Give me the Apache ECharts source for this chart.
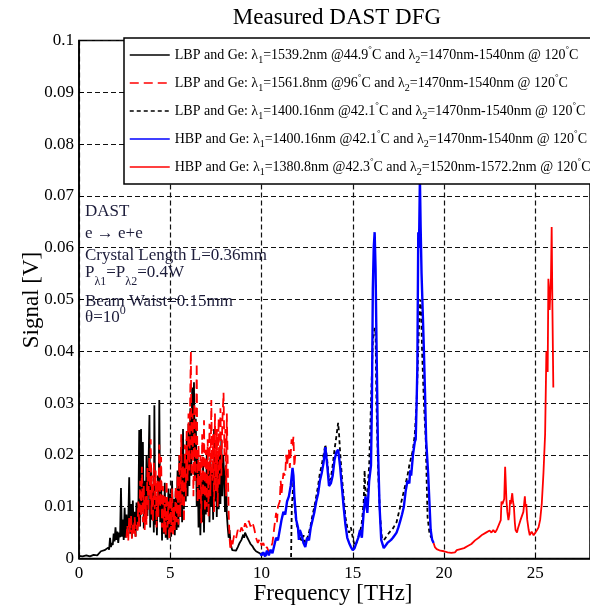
<!DOCTYPE html>
<html>
<head>
<meta charset="utf-8">
<script src="https://cdn.jsdelivr.net/npm/echarts@6/dist/echarts.min.js"></script>
<style>
  html, body { margin: 0; padding: 0; background: #fff; }
  #chart { width: 590px; height: 608px; }
</style>
</head>
<body>
<div id="chart"></div>
<script>
// Series names (legend entries)
const seriesNames = [
  'LBP and Ge: λ1=1539.2nm @44.9°C and λ2=1470nm-1540nm @ 120°C',
  'LBP and Ge: λ1=1561.8nm @96°C and λ2=1470nm-1540nm @ 120°C',
  'LBP and Ge: λ1=1400.16nm @42.1°C and λ2=1470nm-1540nm @ 120°C',
  'HBP and Ge: λ1=1400.16nm @42.1°C and λ2=1470nm-1540nm @ 120°C',
  'HBP and Ge: λ1=1380.8nm @42.3°C and λ2=1520nm-1572.2nm @ 120°C'
];

// [frequency THz, signal V]
const lbp1539 = [
  [0.0,0.0005],[0.2,0.0004],[0.4,0.0006],[0.6,0.0004],[0.8,0.0007],[1.0,0.0006],[1.1,0.0009],[1.2,0.0014],
  [1.3,0.0011],[1.4,0.0016],[1.5,0.0013],[1.6,0.0021],[1.65,0.0017],[1.7,0.0040],[1.75,0.0022],[1.8,0.0030],
  [1.85,0.0026],[1.9,0.0048],[1.95,0.0033],[2.0,0.0060],[2.05,0.0036],[2.1,0.0052],[2.15,0.0030],[2.2,0.0050],
  [2.25,0.0041],[2.3,0.0136],[2.35,0.0042],[2.4,0.0075],[2.45,0.0036],[2.5,0.0098],[2.55,0.0040],[2.6,0.0085],
  [2.65,0.0044],[2.7,0.0070],[2.75,0.0157],[2.8,0.0048],[2.85,0.0105],[2.9,0.0040],[2.95,0.0112],[3.0,0.0050],
  [3.05,0.0090],[3.1,0.0042],[3.15,0.0108],[3.2,0.0055],[3.25,0.0080],[3.3,0.0248],[3.35,0.0062],[3.4,0.0250],
  [3.45,0.0090],[3.5,0.0225],[3.55,0.0058],[3.6,0.0150],[3.65,0.0070],[3.7,0.0200],[3.75,0.0082],[3.8,0.0160],
  [3.86,0.0277],[3.9,0.0060],[3.95,0.0180],[4.0,0.0075],[4.05,0.0140],[4.1,0.0050],[4.13,0.0296],[4.18,0.0065],
  [4.22,0.0120],[4.27,0.0045],[4.32,0.0160],[4.36,0.0080],[4.4,0.0306],[4.45,0.0070],[4.5,0.0150],[4.55,0.0035],
  [4.6,0.0120],[4.65,0.0048],[4.7,0.0146],[4.75,0.0040],[4.8,0.0110],[4.85,0.0036],[4.9,0.0135],[4.95,0.0055],
  [5.0,0.0125],[5.05,0.0042],[5.1,0.0150],[5.15,0.0060],[5.2,0.0115],[5.25,0.0045],[5.3,0.0130],[5.35,0.0055],
  [5.4,0.0170],[5.45,0.0060],[5.5,0.0200],[5.55,0.0080],[5.6,0.0215],[5.65,0.0070],[5.7,0.0250],[5.75,0.0095],
  [5.8,0.0190],[5.85,0.0110],[5.9,0.0230],[5.95,0.0120],[6.0,0.0260],[6.05,0.0140],[6.1,0.0290],[6.15,0.0160],
  [6.2,0.0330],[6.25,0.0200],[6.3,0.0340],[6.35,0.0150],[6.4,0.0270],[6.45,0.0100],[6.5,0.0200],[6.55,0.0060],
  [6.6,0.0180],[6.65,0.0045],[6.7,0.0150],[6.75,0.0070],[6.8,0.0190],[6.85,0.0050],[6.9,0.0165],[6.95,0.0085],
  [7.0,0.0200],[7.05,0.0090],[7.1,0.0180],[7.15,0.0070],[7.2,0.0195],[7.25,0.0100],[7.3,0.0170],[7.35,0.0075],
  [7.4,0.0250],[7.45,0.0110],[7.5,0.0190],[7.55,0.0080],[7.6,0.0200],[7.65,0.0095],[7.7,0.0215],[7.75,0.0105],
  [7.8,0.0230],[7.85,0.0120],[7.9,0.0200],[7.95,0.0165],[8.0,0.0090],[8.05,0.0180],[8.1,0.0085],[8.15,0.0060],
  [8.2,0.0040],[8.25,0.0055],[8.3,0.0030],[8.35,0.0022],[8.4,0.0016],[8.5,0.0018],[8.6,0.0015],[8.7,0.0022],
  [8.8,0.0030],[8.9,0.0036],[9.0,0.0046],[9.05,0.0040],[9.1,0.0050],[9.2,0.0042],[9.3,0.0035],[9.4,0.0028],
  [9.5,0.0024],[9.6,0.0018],[9.7,0.0014],[9.8,0.0012],[9.9,0.0010],[10.0,0.0011],[10.1,0.0008],[10.2,0.0009],
  [10.3,0.0007]
];

const lbp1561 = [
  [2.6,0.0040],[2.65,0.0065],[2.7,0.0035],[2.75,0.0078],[2.8,0.0050],[2.85,0.0084],[2.9,0.0038],[2.95,0.0070],
  [3.0,0.0045],[3.05,0.0080],[3.1,0.0042],[3.15,0.0065],[3.2,0.0050],[3.25,0.0110],[3.3,0.0060],[3.35,0.0150],
  [3.4,0.0080],[3.45,0.0177],[3.5,0.0070],[3.55,0.0140],[3.6,0.0055],[3.65,0.0120],[3.7,0.0065],[3.75,0.0175],
  [3.8,0.0090],[3.85,0.0195],[3.9,0.0110],[3.93,0.0230],[3.97,0.0085],[4.0,0.0160],[4.05,0.0070],[4.1,0.0185],
  [4.15,0.0095],[4.2,0.0170],[4.25,0.0060],[4.3,0.0150],[4.35,0.0080],[4.4,0.0220],[4.45,0.0100],[4.5,0.0196],
  [4.55,0.0060],[4.6,0.0140],[4.65,0.0050],[4.7,0.0120],[4.75,0.0045],[4.8,0.0150],[4.85,0.0060],[4.9,0.0110],
  [4.95,0.0036],[5.0,0.0120],[5.05,0.0050],[5.1,0.0135],[5.15,0.0045],[5.2,0.0100],[5.25,0.0055],[5.3,0.0140],
  [5.35,0.0070],[5.4,0.0160],[5.45,0.0065],[5.5,0.0200],[5.55,0.0080],[5.6,0.0240],[5.65,0.0100],[5.7,0.0180],
  [5.75,0.0070],[5.8,0.0220],[5.85,0.0120],[5.9,0.0250],[5.95,0.0150],[6.0,0.0280],[6.05,0.0170],[6.1,0.0330],
  [6.13,0.0400],[6.17,0.0160],[6.22,0.0280],[6.27,0.0120],[6.32,0.0300],[6.37,0.0150],[6.42,0.0260],[6.45,0.0377],
  [6.5,0.0110],[6.55,0.0220],[6.6,0.0110],[6.65,0.0200],[6.7,0.0068],[6.75,0.0240],[6.8,0.0120],[6.85,0.0267],
  [6.9,0.0090],[6.95,0.0210],[7.0,0.0100],[7.05,0.0230],[7.1,0.0080],[7.15,0.0260],[7.2,0.0120],[7.25,0.0306],
  [7.3,0.0150],[7.35,0.0240],[7.4,0.0090],[7.45,0.0280],[7.5,0.0130],[7.55,0.0250],[7.6,0.0100],[7.65,0.0270],
  [7.7,0.0140],[7.75,0.0290],[7.8,0.0160],[7.85,0.0260],[7.92,0.0320],[7.97,0.0200],[8.02,0.0250],[8.06,0.0120],
  [8.1,0.0280],[8.15,0.0180],[8.2,0.0090],[8.25,0.0040],[8.3,0.0016],[8.35,0.0035],[8.4,0.0025],[8.5,0.0045],
  [8.6,0.0038],[8.7,0.0055],[8.8,0.0048],[8.9,0.0060],[9.0,0.0052],[9.1,0.0068],[9.2,0.0060],[9.3,0.0073],
  [9.4,0.0062],[9.5,0.0070],[9.6,0.0058],[9.7,0.0040],[9.8,0.0030],[9.9,0.0038],[10.0,0.0025],[10.1,0.0030],
  [10.2,0.0018],[10.3,0.0022],[10.4,0.0012],[10.5,0.0020],[10.6,0.0030],[10.7,0.0060],[10.8,0.0088],[10.85,0.0070],
  [10.9,0.0100],[11.0,0.0110],[11.05,0.0150],[11.1,0.0125],[11.2,0.0165],[11.3,0.0160],[11.35,0.0200],[11.4,0.0180],
  [11.5,0.0210],[11.55,0.0175],[11.65,0.0230],[11.7,0.0215],[11.75,0.0235],[11.8,0.0177],[11.85,0.0200]
];

const lbp1400 = [
  [11.62,0.0003],[11.66,0.0100],[11.7,0.0120],[11.75,0.0150],[11.8,0.0110],[11.85,0.0090],[11.9,0.0070],[12.0,0.0055],
  [12.1,0.0040],[12.2,0.0035],[12.3,0.0045],[12.4,0.0030],[12.5,0.0038],[12.6,0.0050],[12.7,0.0065],[12.8,0.0085],
  [12.9,0.0100],[13.0,0.0120],[13.1,0.0140],[13.2,0.0165],[13.3,0.0180],[13.4,0.0200],[13.5,0.0220],[13.55,0.0205],
  [13.6,0.0190],[13.7,0.0150],[13.8,0.0155],[13.9,0.0180],[14.0,0.0210],[14.1,0.0235],[14.2,0.0262],[14.25,0.0240],
  [14.3,0.0210],[14.4,0.0160],[14.5,0.0120],[14.6,0.0080],[14.7,0.0060],[14.8,0.0050],[14.9,0.0060],[15.0,0.0040],
  [15.1,0.0025],[15.2,0.0030],[15.3,0.0040],[15.4,0.0050],[15.5,0.0070],[15.6,0.0110],[15.65,0.0170],[15.7,0.0120],
  [15.8,0.0130],[15.9,0.0180],[16.0,0.0300],[16.1,0.0420],[16.2,0.0445],[16.25,0.0435],[16.3,0.0300],[16.4,0.0160],
  [16.5,0.0080],[16.6,0.0040],[16.7,0.0035],[16.8,0.0040],[16.9,0.0045],[17.0,0.0050],[17.2,0.0058],[17.4,0.0070],
  [17.5,0.0085],[17.6,0.0100],[17.7,0.0115],[17.8,0.0130],[17.9,0.0145],[18.0,0.0160],[18.1,0.0180],[18.2,0.0195],
  [18.3,0.0210],[18.4,0.0240],[18.5,0.0300],[18.6,0.0420],[18.7,0.0500],[18.75,0.0480],[18.8,0.0400],[18.9,0.0300],
  [19.0,0.0230],[19.05,0.0150],[19.1,0.0080],[19.2,0.0050],[19.3,0.0040]
];

const hbp1400 = [
  [9.95,0.0010],[10.0,0.0006],[10.1,0.0012],[10.2,0.0004],[10.3,0.0015],[10.4,0.0006],[10.5,0.0017],[10.6,0.0010],
  [10.7,0.0025],[10.8,0.0040],[10.9,0.0035],[11.0,0.0055],[11.1,0.0075],[11.2,0.0090],[11.3,0.0085],[11.4,0.0110],
  [11.5,0.0120],[11.6,0.0140],[11.7,0.0175],[11.75,0.0160],[11.8,0.0120],[11.9,0.0075],[12.0,0.0060],[12.05,0.0036],
  [12.1,0.0055],[12.2,0.0045],[12.3,0.0030],[12.4,0.0022],[12.5,0.0040],[12.6,0.0035],[12.7,0.0060],[12.8,0.0075],
  [12.9,0.0090],[13.0,0.0110],[13.1,0.0125],[13.2,0.0150],[13.3,0.0165],[13.4,0.0185],[13.5,0.0215],[13.6,0.0180],
  [13.7,0.0140],[13.8,0.0145],[13.9,0.0160],[14.0,0.0190],[14.1,0.0205],[14.2,0.0210],[14.3,0.0180],[14.4,0.0140],
  [14.5,0.0100],[14.6,0.0065],[14.7,0.0040],[14.8,0.0030],[14.9,0.0022],[15.0,0.0016],[15.1,0.0020],[15.2,0.0030],
  [15.3,0.0040],[15.4,0.0055],[15.5,0.0040],[15.6,0.0090],[15.7,0.0120],[15.8,0.0088],[15.9,0.0150],[16.0,0.0180],
  [16.05,0.0300],[16.1,0.0520],[16.15,0.0600],[16.2,0.0630],[16.25,0.0560],[16.3,0.0420],[16.38,0.0215],[16.47,0.0100],
  [16.56,0.0036],[16.7,0.0020],[16.8,0.0022],[16.9,0.0030],[17.0,0.0032],[17.1,0.0036],[17.2,0.0040],[17.3,0.0045],
  [17.4,0.0050],[17.5,0.0060],[17.6,0.0072],[17.7,0.0085],[17.8,0.0100],[17.9,0.0130],[18.0,0.0150],[18.1,0.0145],
  [18.15,0.0170],[18.2,0.0160],[18.3,0.0200],[18.4,0.0225],[18.45,0.0230],[18.5,0.0300],[18.54,0.0370],[18.59,0.0630],
  [18.63,0.0600],[18.68,0.0735],[18.72,0.0640],[18.77,0.0550],[18.84,0.0470],[18.9,0.0400],[18.96,0.0320],[19.02,0.0230],
  [19.13,0.0165],[19.2,0.0110],[19.27,0.0055],[19.35,0.0036],[19.43,0.0030]
];

const hbp1380 = [
  [19.43,0.0030],[19.5,0.0022],[19.6,0.0018],[19.7,0.0020],[19.8,0.0015],[19.9,0.0018],[20.0,0.0014],[20.1,0.0016],
  [20.2,0.0012],[20.3,0.0015],[20.4,0.0011],[20.5,0.0013],[20.6,0.0012],[20.7,0.0016],[20.8,0.0013],[20.9,0.0018],
  [21.0,0.0016],[21.1,0.0020],[21.2,0.0019],[21.3,0.0024],[21.4,0.0022],[21.5,0.0028],[21.6,0.0030],[21.7,0.0035],
  [21.8,0.0034],[21.9,0.0040],[22.0,0.0042],[22.1,0.0046],[22.2,0.0044],[22.3,0.0050],[22.4,0.0049],[22.5,0.0054],
  [22.6,0.0050],[22.7,0.0055],[22.8,0.0050],[22.9,0.0056],[23.0,0.0055],[23.11,0.0074],[23.15,0.0110],[23.2,0.0105],
  [23.3,0.0115],[23.35,0.0177],[23.38,0.0150],[23.42,0.0113],[23.47,0.0090],[23.53,0.0074],[23.58,0.0085],[23.62,0.0113],
  [23.66,0.0105],[23.74,0.0126],[23.78,0.0110],[23.83,0.0100],[23.88,0.0070],[23.92,0.0055],[24.0,0.0050],[24.05,0.0058],
  [24.1,0.0060],[24.19,0.0074],[24.28,0.0072],[24.35,0.0090],[24.43,0.0120],[24.47,0.0100],[24.51,0.0105],[24.56,0.0075],
  [24.64,0.0055],[24.7,0.0045],[24.8,0.0052],[24.91,0.0045],[25.0,0.0048],[25.1,0.0055],[25.18,0.0060],[25.27,0.0075],
  [25.36,0.0107],[25.45,0.0165],[25.54,0.0240],[25.58,0.0330],[25.61,0.0400],[25.64,0.0380],[25.68,0.0360],[25.72,0.0540],
  [25.76,0.0500],[25.79,0.0480],[25.83,0.0520],[25.86,0.0540],[25.9,0.0640],[25.94,0.0485],[25.99,0.0330]
];

// Axis tick settings
const xTicks = { min: 0, max: 28, step: 5 };
const yTicks = { min: 0, max: 0.1, step: 0.01 };

const serif = "'Liberation Serif', 'Times New Roman', Times, serif";
const inkText = '#1c1c3a';

const chart = echarts.init(document.getElementById('chart'), null, { renderer: 'canvas' });

function lineSeries(name, data, color, width, dash) {
  return {
    name: name,
    type: 'line',
    data: data,
    symbol: 'none',
    showSymbol: false,
    animation: false,
    clip: true,
    lineStyle: { color: color, width: width, type: dash || 'solid' },
    itemStyle: { color: color },
    emphasis: { disabled: true }
  };
}

const option = {
  animation: false,
  backgroundColor: '#fff',
  grid: {
    left: 79, top: 40.5, width: 519.7, height: 518,
    show: true, borderColor: '#000', borderWidth: 1.5, backgroundColor: '#fff'
  },
  xAxis: {
    type: 'value',
    min: xTicks.min, max: xTicks.max, interval: xTicks.step,
    axisLine: { show: true, onZero: false, lineStyle: { color: '#000', width: 1.5 } },
    axisTick: { show: true, inside: true, length: 5, lineStyle: { color: '#000' } },
    axisLabel: {
      show: true, margin: 7, color: '#000', fontFamily: serif, fontSize: 17,
      showMaxLabel: false,
      formatter: v => String(v)
    },
    splitLine: { show: true, lineStyle: { color: '#111', width: 1.2, type: [5, 3] } }
  },
  yAxis: {
    type: 'value',
    min: yTicks.min, max: yTicks.max, interval: yTicks.step,
    axisLine: { show: true, onZero: false, lineStyle: { color: '#000', width: 1.5 } },
    axisTick: { show: true, inside: true, length: 5, lineStyle: { color: '#000' } },
    axisLabel: {
      show: true, margin: 5, color: '#000', fontFamily: serif, fontSize: 17,
      formatter: v => String(+v.toFixed(2))
    },
    splitLine: { show: true, lineStyle: { color: '#111', width: 1.2, type: [5, 3] } }
  },
  legend: {
    orient: 'vertical',
    left: 124, top: 38,
    padding: [7, 10, 7, 5],
    itemWidth: 40, itemHeight: 14, itemGap: 8,
    backgroundColor: '#fff', borderColor: '#000', borderWidth: 1.5,
    selectedMode: false,
    data: seriesNames,
    itemStyle: { opacity: 0, borderWidth: 0 },
    lineStyle: { width: 1.5 },
    formatter: name => name.replace(/λ(\d)/g, '{l|λ}{s|$1}').replace(/°/g, '{o|°}'),
    textStyle: {
      fontFamily: serif, fontSize: 14, color: '#000', lineHeight: 20,
      rich: {
        l: { fontFamily: serif, fontSize: 14, lineHeight: 20, color: '#000' },
        s: { fontFamily: serif, fontSize: 10, lineHeight: 10, verticalAlign: 'bottom', color: '#000' },
        o: { fontFamily: serif, fontSize: 9, lineHeight: 9, verticalAlign: 'top', color: '#000' }
      }
    }
  },
  graphic: [
    { type: 'text', x: 337, y: 18, z: 10,
      style: { text: 'Measured DAST DFG', fill: '#000', font: '23px ' + serif, align: 'center', verticalAlign: 'middle' } },
    { type: 'text', x: 333, y: 594, z: 10,
      style: { text: 'Frequency [THz]', fill: '#000', font: '23px ' + serif, align: 'center', verticalAlign: 'middle' } },
    { type: 'text', x: 32, y: 300, rotation: Math.PI / 2, z: 10,
      style: { text: 'Signal [V]', fill: '#000', font: '23px ' + serif, align: 'center', verticalAlign: 'middle' } },
    { type: 'text', x: 85, y: 212, z: 10,
      style: { text: 'DAST', fill: inkText, font: '17px ' + serif, align: 'left', verticalAlign: 'middle' } },
    { type: 'text', x: 85, y: 234, z: 10,
      style: { text: 'e → e+e', fill: inkText, font: '17px ' + serif, align: 'left', verticalAlign: 'middle' } },
    { type: 'text', x: 85, y: 256, z: 10,
      style: { text: 'Crystal Length L=0.36mm', fill: inkText, font: '17px ' + serif, align: 'left', verticalAlign: 'middle' } },
    { type: 'text', x: 85, y: 273, z: 10,
      style: {
        text: 'P{s|λ1}=P{s|λ2}=0.4W', fill: inkText, font: '17px ' + serif, lineHeight: 30,
        align: 'left', verticalAlign: 'middle',
        rich: { s: { fontFamily: serif, fontSize: 12, lineHeight: 12, verticalAlign: 'bottom', fill: inkText } }
      } },
    { type: 'text', x: 85, y: 302, z: 10,
      style: { text: 'Beam Waist=0.15mm', fill: inkText, font: '17px ' + serif, align: 'left', verticalAlign: 'middle' } },
    { type: 'text', x: 85, y: 318, z: 10,
      style: {
        text: 'θ=10{p|0}', fill: inkText, font: '17px ' + serif, lineHeight: 26,
        align: 'left', verticalAlign: 'middle',
        rich: { p: { fontFamily: serif, fontSize: 12, lineHeight: 12, verticalAlign: 'top', fill: inkText } }
      } }
  ],
  series: [
    lineSeries(seriesNames[0], lbp1539, '#000000', 1.8),
    lineSeries(seriesNames[1], lbp1561, '#ff0000', 1.8, [9, 5]),
    lineSeries(seriesNames[2], lbp1400, '#000000', 1.8, [4, 3]),
    lineSeries(seriesNames[3], hbp1400, '#0000ff', 2.4),
    lineSeries(seriesNames[4], hbp1380, '#ff0000', 1.8)
  ]
};

chart.setOption(option);
</script>
</body>
</html>
